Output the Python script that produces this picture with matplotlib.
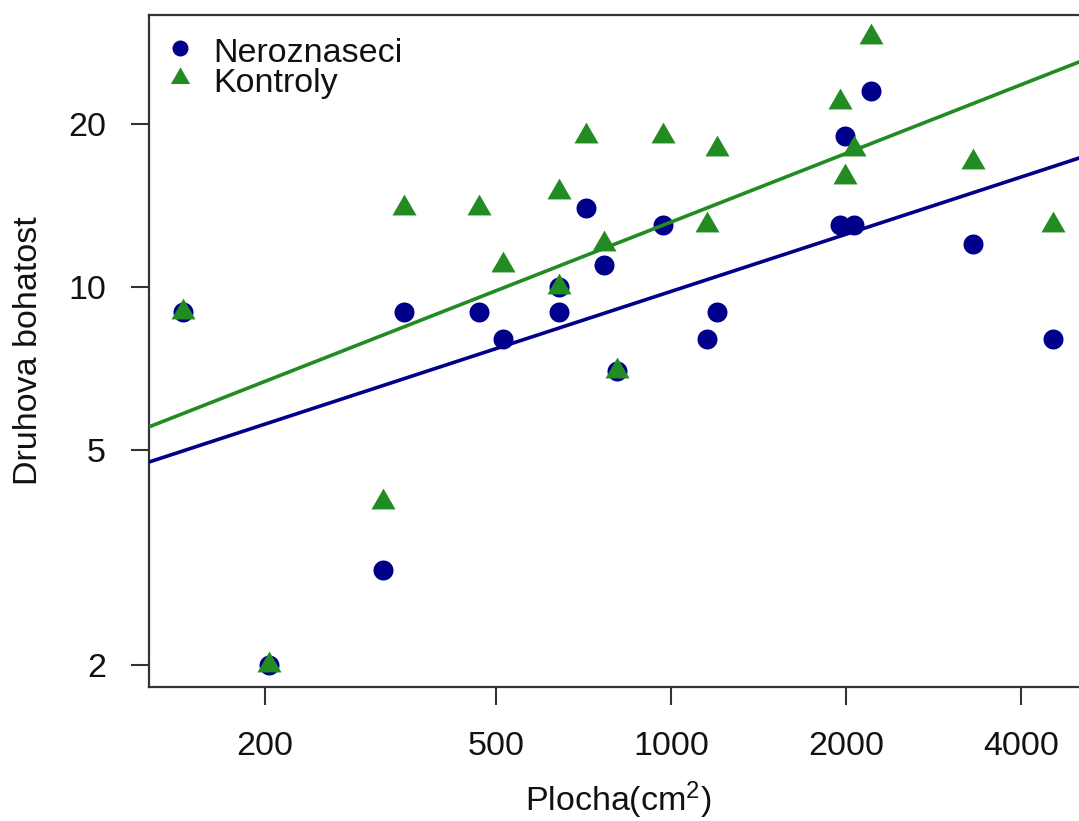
import numpy as np
import matplotlib
matplotlib.use("Agg")
import matplotlib.pyplot as plt

plt.rcParams["font.family"] = ["Liberation Sans", "DejaVu Sans"]
plt.rcParams["mathtext.default"] = "regular"

# plot area (cm2) per site
plocha = [144.5, 203, 319, 347, 467, 514, 641, 641, 714, 766, 807, 968,
          1153, 1199, 1953, 1992, 2064, 2208, 3308, 4543]
# species richness, unseeded plots and controls
neroznaseci = [9, 2, 3, 9, 9, 8, 9, 10, 14, 11, 7, 13, 8, 9, 13, 19, 13, 23, 12, 8]
kontroly = [9, 2, 4, 14, 14, 11, 15, 10, 19, 12, 7, 19, 13, 18, 22, 16, 18, 29, 17, 13]

# log10(y) = a + b*log10(x)
fit_nero = (-0.0602, 0.3507)
fit_kontr = (-0.143, 0.421)

blue = "#00008B"
green = "#228B22"

fig = plt.figure(figsize=(10.79, 8.21), dpi=100)
ax = fig.add_axes([149 / 1079, 134 / 821, 939 / 1079, 672 / 821])
ax.set_xscale("log")
ax.set_yscale("log")
ax.set_xlim(126.3, 5220)
ax.set_ylim(1.825, 31.8)

tri = [(0, 1), (-0.866, -0.5), (0.866, -0.5)]

ax.plot(plocha, neroznaseci, "o", color=blue, ms=14.4, mew=0, zorder=2)
ax.plot(plocha, kontroly, ls="none", marker=tri, color=green, ms=20, mew=0, zorder=3)

xx = np.array(ax.get_xlim())
for (a, b), c in [(fit_nero, blue), (fit_kontr, green)]:
    ax.plot(xx, 10 ** (a + b * np.log10(xx)), color=c, lw=2.6, zorder=4)

xt = [200, 500, 1000, 2000, 4000]
yt = [2, 5, 10, 20]
ax.set_xticks(xt)
ax.set_xticklabels([str(v) for v in xt])
ax.set_yticks(yt)
ax.set_yticklabels([str(v) for v in yt])
ax.minorticks_off()
ax.tick_params(length=13, width=1.5, color="#333333", labelsize=24.5,
               labelcolor="#111111")
ax.tick_params(axis="x", pad=19)
ax.tick_params(axis="y", pad=18)
for s in ax.spines.values():
    s.set_linewidth(1.6)
    s.set_color("#333333")

ax.set_xlabel("Plocha(cm$^2$)", fontsize=24.5, labelpad=12, color="#111111")
ax.set_ylabel("Druhova bohatost", fontsize=24.5, labelpad=17, color="#111111")

# legend in the top left corner
ax.plot([0.033], [0.951], "o", color=blue, ms=11.5, mew=0, transform=ax.transAxes)
ax.plot([0.033], [0.906], ls="none", marker=tri, color=green, ms=16, mew=0,
        transform=ax.transAxes)
ax.text(0.068, 0.930, "Neroznaseci", fontsize=24.5, transform=ax.transAxes,
        va="baseline", color="#111111")
ax.text(0.068, 0.885, "Kontroly", fontsize=24.5, transform=ax.transAxes,
        va="baseline", color="#111111")

fig.savefig("out.png", dpi=100)
